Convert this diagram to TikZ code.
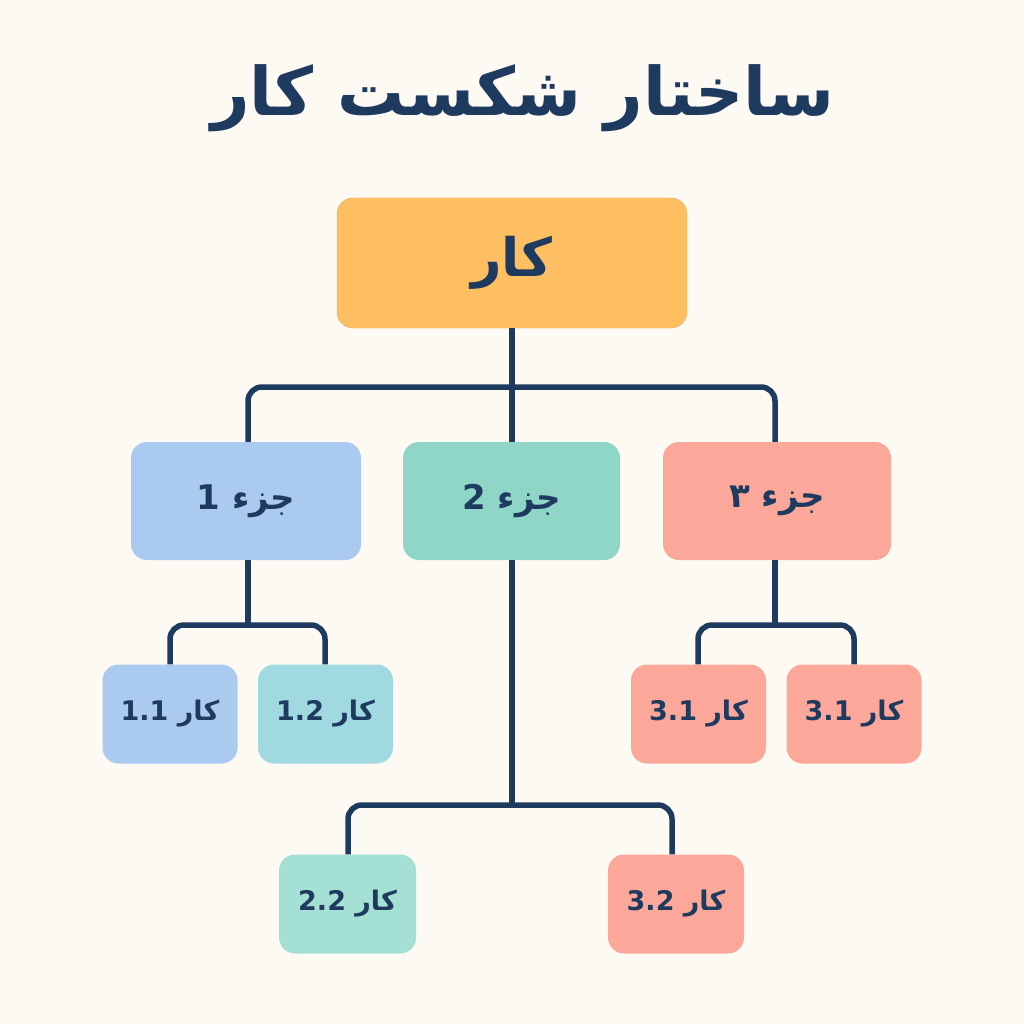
\documentclass[tikz,border=0pt]{standalone}
\usepackage{fontspec}
\TeXXeTstate=1
\newfontfamily\arabicbold[Script=Arabic,BoldFont={DejaVu Sans Bold}]{DejaVu Sans}
\definecolor{bg}{HTML}{FDF9F3}
\definecolor{navy}{HTML}{1F3A5F}
\definecolor{orng}{HTML}{FDBF62}
\definecolor{blu}{HTML}{AACBEF}
\definecolor{grn}{HTML}{8FD6C6}
\definecolor{salm}{HTML}{FBA89B}
\definecolor{teal}{HTML}{A0DAE0}
\definecolor{mint}{HTML}{A5E0D4}
\tikzset{
  box/.style={rounded corners=16pt, inner sep=0pt, text=navy},
  conn/.style={draw=navy, line width=5.5pt, rounded corners=14pt},
}
\begin{document}
\begin{tikzpicture}[x=1pt,y=-1pt]
\fill[bg] (0,0) rectangle (1024,1024);
\useasboundingbox (0,0) rectangle (1024,1024);
\node (title) at (523,98) [text=navy, font=\arabicbold\bfseries\fontsize{67}{76}\selectfont] {\beginR ساختار شکست کار\endR};
\node[box, fill=orng, draw=orng!90!black, minimum width=350pt, minimum height=130pt, font=\arabicbold\bfseries\fontsize{53}{60}\selectfont] (root) at (512,263) {\beginR کار\endR};
\node[box, fill=blu, minimum width=230pt, minimum height=118pt, font=\arabicbold\bfseries\fontsize{34}{40}\selectfont] (p1) at (246,501) {\beginR جزء \beginL 1\endL\endR};
\node[box, fill=grn, minimum width=217pt, minimum height=118pt, font=\arabicbold\bfseries\fontsize{34}{40}\selectfont] (p2) at (511.5,501) {\beginR جزء \beginL 2\endL\endR};
\node[box, fill=salm, minimum width=228pt, minimum height=118pt, font=\arabicbold\bfseries\fontsize{34}{40}\selectfont] (p3) at (777,501) {\beginR جزء ۳\endR};
\tikzset{small/.style={box, minimum width=135pt, minimum height=99pt, font=\arabicbold\bfseries\fontsize{27}{32}\selectfont}}
\node[small, fill=blu] (t11) at (170,714) {\beginR کار \beginL 1.1\endL\endR};
\node[small, fill=teal] (t12) at (325.5,714) {\beginR کار \beginL 1.2\endL\endR};
\node[small, fill=salm] (t31a) at (698.5,714) {\beginR کار \beginL 3.1\endL\endR};
\node[small, fill=salm] (t31b) at (854,714) {\beginR کار \beginL 3.1\endL\endR};
\node[small, fill=mint, minimum width=137pt] (t22) at (347.5,904) {\beginR کار \beginL 2.2\endL\endR};
\node[small, fill=salm, minimum width=136pt] (t32) at (676,904) {\beginR کار \beginL 3.2\endL\endR};
% connectors
\draw[conn] (root.south) -- (p2.north -| root.south);
\draw[conn] (root.south |- 0,387) -- (248,387) -- (p1.north -| 248,0);
\draw[conn] (root.south |- 0,387) -- (775,387) -- (p3.north -| 775,0);
\draw[conn] (p1.south -| 248,0) -- (248,625);
\draw[conn] (248,625) -- (170,625) -- (t11.north);
\draw[conn] (248,625) -- (325,625) -- (t12.north -| 325,0);
\draw[conn] (p3.south -| 775,0) -- (775,625);
\draw[conn] (775,625) -- (698,625) -- (t31a.north -| 698,0);
\draw[conn] (775,625) -- (854,625) -- (t31b.north);
\draw[conn] (p2.south -| 512,0) -- (512,805);
\draw[conn] (512,805) -- (348,805) -- (t22.north -| 348,0);
\draw[conn] (512,805) -- (672,805) -- (t32.north -| 672,0);
\end{tikzpicture}
\end{document}
